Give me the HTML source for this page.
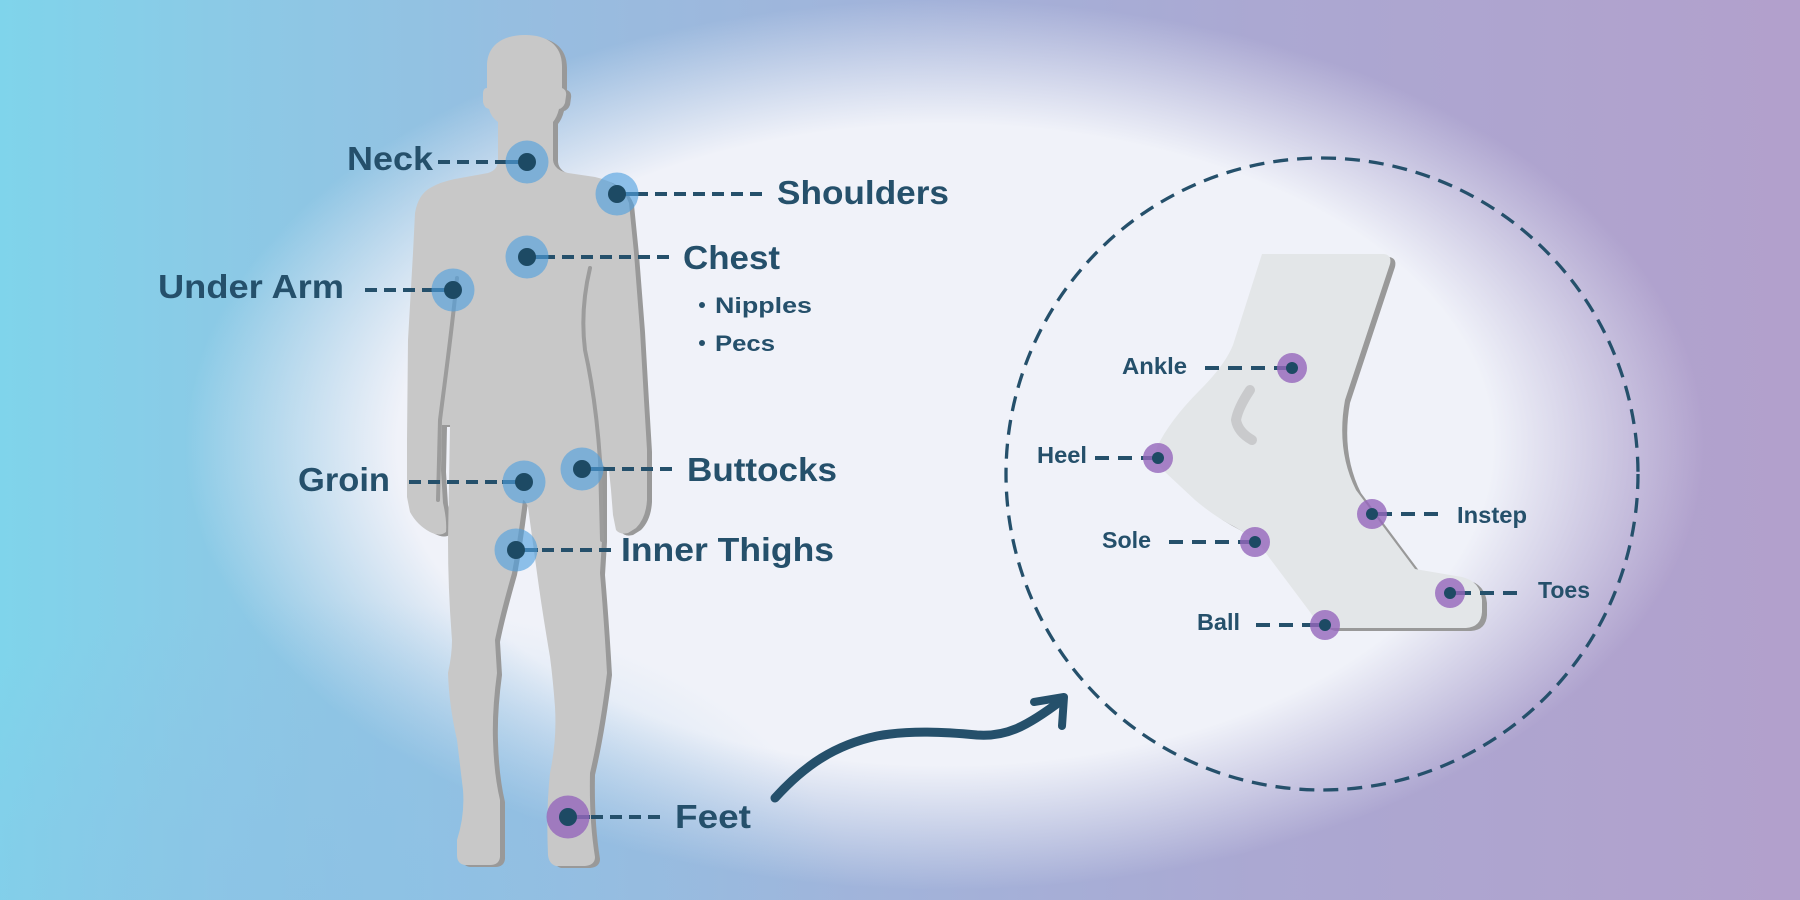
<!DOCTYPE html>
<html><head><meta charset="utf-8">
<style>
html,body{margin:0;padding:0;}
body{width:1800px;height:900px;overflow:hidden;position:relative;
background:
 radial-gradient(ellipse 520px 300px at 330px 900px, rgba(140,193,229,0.7) 0%, rgba(140,193,229,0) 100%),
 radial-gradient(ellipse 760px 445px at 945px 445px, rgba(240,242,249,1) 0%, rgba(240,242,249,1) 72%, rgba(240,242,249,0) 100%),
 linear-gradient(90deg, #7fd4eb 0%, #8bcae6 12%, #97bde0 30%, #a2b3da 50%, #aba8d2 70%, #b2a0cc 100%);
}
svg{position:absolute;left:0;top:0;}
text{font-family:"Liberation Sans","DejaVu Sans",sans-serif;font-weight:bold;fill:#25506b;}
</style></head>
<body>
<svg width="1800" height="900" viewBox="0 0 1800 900" xmlns="http://www.w3.org/2000/svg">
<defs>
<path id="body" d="M 487,66 C 487,45 503,35 525,35 C 547,35 562,45 562,66 L 562,88 Q 567,90 566,96 L 565,103 Q 563,108 559,109 Q 557,117 553,122 L 553,160 Q 554,170 568,173 L 595,177 Q 622,183 629,203 L 634,253 L 640,330 L 644,400 L 647,450 L 647,500 Q 646,518 636,528 L 628,533 Q 620,535 616,530 L 613,515 L 611,490 L 609,470 L 602,465 L 602,540 L 600,573 Q 604,620 607,673 Q 600,730 590,773 Q 589,820 595,857 Q 595,865 585,866 L 556,866 Q 549,864 548,855 Q 546,810 550,773 Q 557,740 555,707 Q 553,680 550,657 Q 542,610 537,573 L 528,507 Q 525,500 523,500 Q 518,540 512,573 Q 500,615 495,640 L 497,673 Q 492,710 493,740 Q 494,775 500,800 L 500,857 Q 499,865 490,865 L 465,865 Q 457,864 457,855 L 457,840 Q 465,815 463,790 Q 460,765 457,740 Q 449,705 448,673 Q 452,655 452,640 Q 448,590 448,540 L 450,425 L 442,425 L 441,470 L 443,503 Q 447,520 446,532 Q 440,537 430,532 Q 417,525 410,512 L 407,497 L 407,440 L 408,340 L 413,253 L 415,213 Q 418,195 430,188 Q 440,182 455,179 L 488,173 Q 498,170 498,160 L 498,122 Q 491,117 489,109 Q 484,108 483,102 L 483,94 Q 483,88 487,88 Z"/>
<path id="foot" d="M 1262,254 L 1384,254 Q 1392,255 1390,264 L 1345,400 Q 1336,450 1356,490 L 1415,569 L 1462,577 Q 1480,581 1482,600 L 1482,612 Q 1481,627 1466,628 L 1330,628 Q 1318,625 1310,612 L 1262,548 Q 1250,535 1235,527 Q 1215,517 1195,500 L 1165,472 Q 1152,460 1157,447 Q 1170,420 1200,390 Q 1225,365 1233,345 L 1262,254 Z"/>
</defs>

<!-- human silhouette -->
<use href="#body" fill="#999999" transform="translate(5,2)"/>
<use href="#body" fill="#c8c8c8"/>
<path d="M 457,278 C 452,330 445,380 440,420 L 438,500" fill="none" stroke="#9c9c9c" stroke-width="4" stroke-linecap="round"/>
<path d="M 590,268 Q 580,310 585,350 Q 596,400 600,460 L 602,540" fill="none" stroke="#9c9c9c" stroke-width="4" stroke-linecap="round"/>

<!-- dashed connectors (body) -->
<g stroke="#25506b" stroke-width="4" stroke-dasharray="12 7" fill="none">
<line x1="438" y1="162" x2="527" y2="162"/>
<line x1="762" y1="194" x2="617" y2="194"/>
<line x1="669" y1="257" x2="527" y2="257"/>
<line x1="365" y1="290" x2="453" y2="290"/>
<line x1="409" y1="482" x2="524" y2="482"/>
<line x1="672" y1="469" x2="582" y2="469"/>
<line x1="611" y1="550" x2="516" y2="550"/>
<line x1="660" y1="817" x2="568" y2="817"/>
</g>
<g stroke="#25506b" stroke-width="4" fill="none">
<line x1="505" y1="162" x2="527" y2="162"/>
<line x1="617" y1="194" x2="639" y2="194"/>
<line x1="527" y1="257" x2="549" y2="257"/>
<line x1="431" y1="290" x2="453" y2="290"/>
<line x1="502" y1="482" x2="524" y2="482"/>
<line x1="582" y1="469" x2="604" y2="469"/>
<line x1="516" y1="550" x2="538" y2="550"/>
<line x1="568" y1="817" x2="590" y2="817"/>
</g>
<!-- rings -->
<g fill="#4f9fde" fill-opacity="0.62">
<circle cx="527" cy="162" r="21.5"/>
<circle cx="617" cy="194" r="21.5"/>
<circle cx="527" cy="257" r="21.5"/>
<circle cx="453" cy="290" r="21.5"/>
<circle cx="524" cy="482" r="21.5"/>
<circle cx="582" cy="469" r="21.5"/>
<circle cx="516" cy="550" r="21.5"/>
</g>
<circle cx="568" cy="817" r="21.5" fill="#9566bb" fill-opacity="0.8"/>
<g fill="#1d4a64">
<circle cx="527" cy="162" r="9"/>
<circle cx="617" cy="194" r="9"/>
<circle cx="527" cy="257" r="9"/>
<circle cx="453" cy="290" r="9"/>
<circle cx="524" cy="482" r="9"/>
<circle cx="582" cy="469" r="9"/>
<circle cx="516" cy="550" r="9"/>
<circle cx="568" cy="817" r="9"/>
</g>

<!-- body labels -->
<g font-size="33">
<text x="347" y="170" textLength="86" lengthAdjust="spacingAndGlyphs">Neck</text>
<text x="777" y="204" textLength="172" lengthAdjust="spacingAndGlyphs">Shoulders</text>
<text x="683" y="269" textLength="97" lengthAdjust="spacingAndGlyphs">Chest</text>
<text x="158" y="298" textLength="186" lengthAdjust="spacingAndGlyphs">Under Arm</text>
<text x="298" y="491" textLength="92" lengthAdjust="spacingAndGlyphs">Groin</text>
<text x="687" y="481" textLength="150" lengthAdjust="spacingAndGlyphs">Buttocks</text>
<text x="621" y="561" textLength="213" lengthAdjust="spacingAndGlyphs">Inner Thighs</text>
<text x="675" y="828" textLength="76" lengthAdjust="spacingAndGlyphs">Feet</text>
</g>
<circle cx="702" cy="305" r="3" fill="#25506b"/>
<circle cx="702" cy="343" r="3" fill="#25506b"/>
<g font-size="22">
<text x="715" y="313" textLength="97" lengthAdjust="spacingAndGlyphs">Nipples</text>
<text x="715" y="351" textLength="60" lengthAdjust="spacingAndGlyphs">Pecs</text>
</g>

<!-- arrow -->
<path d="M 775,798 C 805,765 835,745 877,736 C 910,730 945,732 977,735 C 1005,737 1025,728 1062,700" fill="none" stroke="#25506b" stroke-width="9" stroke-linecap="round"/>
<path d="M 1034,702 L 1064,697 L 1062,726" fill="none" stroke="#25506b" stroke-width="8" stroke-linecap="round" stroke-linejoin="round"/>

<!-- dashed circle -->
<circle cx="1322" cy="474" r="316" fill="none" stroke="#25506b" stroke-width="3.3" stroke-dasharray="15 9"/>

<!-- foot -->
<use href="#foot" fill="#999999" transform="translate(5,3)"/>
<use href="#foot" fill="#e3e6e8"/>
<path d="M 1250,390 Q 1238,408 1236,420 Q 1238,432 1252,440" fill="none" stroke="#c9cacc" stroke-width="10" stroke-linecap="round"/>

<g stroke="#25506b" stroke-width="4" stroke-dasharray="14 9" fill="none">
<line x1="1205" y1="368" x2="1292" y2="368"/>
<line x1="1095" y1="458" x2="1158" y2="458"/>
<line x1="1438" y1="514" x2="1372" y2="514"/>
<line x1="1169" y1="542" x2="1255" y2="542"/>
<line x1="1517" y1="593" x2="1450" y2="593"/>
<line x1="1256" y1="625" x2="1325" y2="625"/>
</g>
<g stroke="#25506b" stroke-width="4" fill="none">
<line x1="1277" y1="368" x2="1292" y2="368"/>
<line x1="1143" y1="458" x2="1158" y2="458"/>
<line x1="1372" y1="514" x2="1387" y2="514"/>
<line x1="1240" y1="542" x2="1255" y2="542"/>
<line x1="1450" y1="593" x2="1465" y2="593"/>
<line x1="1310" y1="625" x2="1325" y2="625"/>
</g>
<g fill="#9566bb" fill-opacity="0.8">
<circle cx="1292" cy="368" r="15"/>
<circle cx="1158" cy="458" r="15"/>
<circle cx="1372" cy="514" r="15"/>
<circle cx="1255" cy="542" r="15"/>
<circle cx="1450" cy="593" r="15"/>
<circle cx="1325" cy="625" r="15"/>
</g>
<g fill="#1d4a64">
<circle cx="1292" cy="368" r="6"/>
<circle cx="1158" cy="458" r="6"/>
<circle cx="1372" cy="514" r="6"/>
<circle cx="1255" cy="542" r="6"/>
<circle cx="1450" cy="593" r="6"/>
<circle cx="1325" cy="625" r="6"/>
</g>
<g font-size="23">
<text x="1122" y="374" textLength="65" lengthAdjust="spacingAndGlyphs">Ankle</text>
<text x="1037" y="463" textLength="50" lengthAdjust="spacingAndGlyphs">Heel</text>
<text x="1457" y="523" textLength="70" lengthAdjust="spacingAndGlyphs">Instep</text>
<text x="1102" y="548" textLength="49" lengthAdjust="spacingAndGlyphs">Sole</text>
<text x="1538" y="598" textLength="52" lengthAdjust="spacingAndGlyphs">Toes</text>
<text x="1197" y="630" textLength="43" lengthAdjust="spacingAndGlyphs">Ball</text>
</g>
</svg>
</body></html>
